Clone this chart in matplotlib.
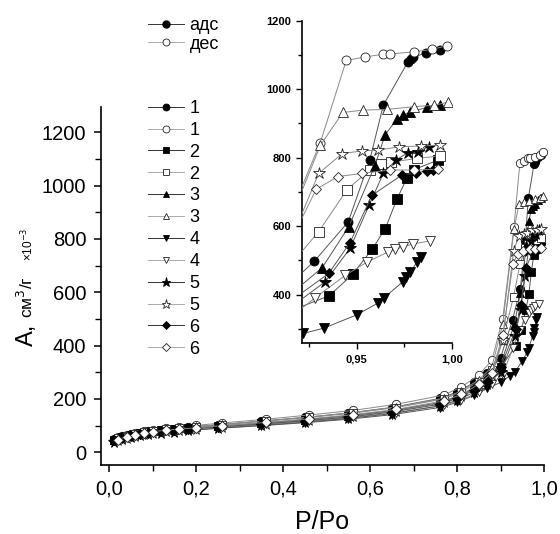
import matplotlib
matplotlib.use("Agg")
import matplotlib.pyplot as plt
from matplotlib.lines import Line2D
from matplotlib.ticker import MultipleLocator, FuncFormatter

plt.rcParams['font.family'] = ['Liberation Sans', 'DejaVu Sans']

# ---------------- data ----------------
p_ads = [0.01, 0.03, 0.05, 0.07, 0.09, 0.12, 0.15, 0.18, 0.25, 0.35, 0.45, 0.55, 0.65, 0.76, 0.80, 0.84, 0.87, 0.90]
p_des = [0.02, 0.04, 0.06, 0.08, 0.10, 0.13, 0.16, 0.20, 0.26, 0.36, 0.46, 0.56, 0.66, 0.77, 0.81, 0.85, 0.88, 0.905]

s1_ads_low = [50, 60, 68, 74, 79, 85, 89, 94, 103, 117, 131, 147, 168, 202, 226, 262, 298, 354]
s1_des_low = [56, 66, 74, 80, 85, 91, 96, 101, 110, 124, 140, 157, 180, 215, 245, 290, 345, 500]
s2_ads_low = [48, 58, 66, 72, 77, 82, 86, 90, 98, 110, 122, 137, 156, 186, 208, 240, 272, 320]
s2_des_low = [52, 62, 70, 76, 81, 87, 91, 96, 104, 117, 131, 147, 168, 200, 226, 265, 310, 420]
s3_ads_low = [47, 57, 65, 71, 76, 81, 85, 89, 97, 109, 121, 136, 155, 185, 207, 240, 275, 330]
s3_des_low = [52, 62, 70, 76, 81, 87, 92, 97, 105, 118, 132, 149, 170, 203, 230, 272, 320, 480]
s4_ads_low = [42, 52, 60, 66, 70, 75, 79, 83, 90, 100, 111, 124, 141, 168, 187, 214, 240, 262]
s4_des_low = [46, 56, 63, 69, 73, 79, 83, 87, 94, 105, 117, 131, 149, 176, 196, 226, 256, 290]
s5_ads_low = [40, 50, 58, 64, 69, 74, 78, 82, 90, 101, 113, 127, 145, 174, 195, 226, 258, 300]
s5_des_low = [45, 55, 63, 69, 74, 80, 84, 88, 96, 108, 121, 136, 156, 187, 210, 248, 290, 420]
s6_ads_low = [45, 55, 63, 69, 74, 79, 83, 87, 95, 106, 118, 132, 151, 180, 202, 234, 266, 320]
s6_des_low = [48, 58, 66, 72, 77, 83, 87, 92, 100, 112, 126, 141, 161, 193, 217, 255, 298, 440]

s1_ads_hp = [0.9278, 0.9456, 0.9569, 0.964, 0.977, 0.9784, 0.9798, 0.9863, 0.9941]
s1_ads_hv = [498, 613, 793, 953, 1080, 1087, 1093, 1106, 1115]
s1_des_hp = [0.9309, 0.9445, 0.9543, 0.9637, 0.9677, 0.980, 0.9897, 0.9973]
s1_des_hv = [844, 1084, 1094, 1102, 1103, 1109, 1116, 1127]
s2_ads_hp = [0.9356, 0.948, 0.9583, 0.9651, 0.9711, 0.9764, 0.980, 0.9929]
s2_ads_hv = [397, 460, 534, 593, 678, 740, 765, 793]
s2_des_hp = [0.930, 0.945, 0.957, 0.963, 0.968, 0.982, 0.994]
s2_des_hv = [584, 707, 765, 783, 787, 798, 805]
s3_ads_hp = [0.9319, 0.9459, 0.9596, 0.965, 0.9711, 0.9746, 0.9782, 0.987, 0.9941]
s3_ads_hv = [479, 599, 777, 867, 912, 925, 933, 947, 953]
s3_des_hp = [0.9309, 0.9427, 0.9535, 0.966, 0.980, 0.9906, 0.9982]
s3_des_hv = [836, 932, 939, 941, 949, 953, 962]
s4_ads_hp = [0.922, 0.9326, 0.950, 0.961, 0.9645, 0.9743, 0.976, 0.978, 0.9819, 0.9837]
s4_ads_hv = [287, 302, 341, 375, 391, 438, 452, 465, 496, 509]
s4_des_hp = [0.9282, 0.9441, 0.9557, 0.9663, 0.9704, 0.9746, 0.9796, 0.9885]
s4_des_hv = [391, 457, 496, 524, 532, 540, 548, 557]
s5_ads_hp = [0.9335, 0.9465, 0.9566, 0.964, 0.9707, 0.977, 0.9823, 0.9879]
s5_ads_hv = [438, 535, 662, 754, 793, 815, 818, 832]
s5_des_hp = [0.930, 0.9424, 0.953, 0.9613, 0.9725, 0.984, 0.9941]
s5_des_hv = [754, 812, 820, 822, 832, 834, 837]
s6_ads_hp = [0.9353, 0.9465, 0.958, 0.974, 0.981, 0.987, 0.990]
s6_ads_hv = [462, 552, 690, 750, 755, 762, 765]
s6_des_hp = [0.9287, 0.9402, 0.9527, 0.9676, 0.980, 0.9929]
s6_des_hv = [708, 745, 754, 764, 764, 766]

labels = ['1', '1', '2', '2', '3', '3', '4', '4', '5', '5', '6', '6']
markers = ['o', 'o', 's', 's', '^', '^', 'v', 'v', '*', '*', 'D', 'D']

series = [
    (p_ads + s1_ads_hp, s1_ads_low + s1_ads_hv),
    (p_des + s1_des_hp, s1_des_low + s1_des_hv),
    (p_ads + s2_ads_hp, s2_ads_low + s2_ads_hv),
    (p_des + s2_des_hp, s2_des_low + s2_des_hv),
    (p_ads + s3_ads_hp, s3_ads_low + s3_ads_hv),
    (p_des + s3_des_hp, s3_des_low + s3_des_hv),
    (p_ads + s4_ads_hp, s4_ads_low + s4_ads_hv),
    (p_des + s4_des_hp, s4_des_low + s4_des_hv),
    (p_ads + s5_ads_hp, s5_ads_low + s5_ads_hv),
    (p_des + s5_des_hp, s5_des_low + s5_des_hv),
    (p_ads + s6_ads_hp, s6_ads_low + s6_ads_hv),
    (p_des + s6_des_hp, s6_des_low + s6_des_hv),
]

W, H = 560, 534
fig = plt.figure(figsize=(W / 100, H / 100), dpi=100)

def fx(px):
    return px / W

def fy(py):
    return 1 - py / H

ax = fig.add_axes([fx(101), fy(465), fx(544) - fx(101), fy(106.7) - fy(465)])
ax.set_xlim(-0.019, 1.0)
ax.set_ylim(-47.6, 1296)

ins = fig.add_axes([fx(302.3), fy(343.3), fx(451.7) - fx(302.3), fy(20.7) - fy(343.3)])
ins.set_xlim(0.9214, 1.0)
ins.set_ylim(258, 1200)
ins.patch.set_alpha(0)


def style(i):
    filled = (i % 2 == 0)
    m = markers[i]
    d = dict(marker=m, linestyle='-',
             color='#555555' if filled else '#8a8a8a', linewidth=0.7,
             markerfacecolor='black' if filled else 'white',
             markeredgecolor='black' if filled else '#222222',
             markeredgewidth=0.6)
    return d, m

handles = []
for i, (xs, ys) in enumerate(series):
    d, m = style(i)
    msz = 8.5 if m == '*' else (5.0 if m == 'D' else 6.0)
    ax.plot(xs, ys, markersize=msz, clip_on=False, zorder=3, **d)
    ins.plot(xs, ys, markersize=msz + 0.5, zorder=3, **d)
    hsz = 6.5 if m == '*' else (4.0 if m == 'D' else 5.0)
    h = Line2D([], [], markersize=hsz, **d)
    h.set_color('#333333' if i % 2 == 0 else '#aaaaaa')
    handles.append(h)

# main axes styling
for sp in ['top', 'right']:
    ax.spines[sp].set_visible(False)
for sp in ['left', 'bottom']:
    ax.spines[sp].set_linewidth(1.2)
ax.xaxis.set_major_locator(MultipleLocator(0.2))
ax.xaxis.set_minor_locator(MultipleLocator(0.1))
ax.yaxis.set_major_locator(MultipleLocator(200))
ax.yaxis.set_minor_locator(MultipleLocator(100))
ax.xaxis.set_major_formatter(FuncFormatter(lambda v, p: f"{v:.1f}".replace('.', ',')))
ax.tick_params(which='major', direction='out', length=5, width=1.1, labelsize=14.5)
ax.tick_params(axis='x', which='major', pad=5.5)
ax.tick_params(axis='y', which='major', pad=5.5)
ax.tick_params(which='minor', direction='out', length=4, width=1.0)

# inset styling
for sp in ['top', 'right']:
    ins.spines[sp].set_visible(False)
for sp in ['left', 'bottom']:
    ins.spines[sp].set_linewidth(1.2)
ins.xaxis.set_major_locator(MultipleLocator(0.05))
ins.xaxis.set_minor_locator(MultipleLocator(0.025))
ins.yaxis.set_major_locator(MultipleLocator(200))
ins.yaxis.set_minor_locator(MultipleLocator(100))
ins.xaxis.set_major_formatter(FuncFormatter(lambda v, p: f"{v:.2f}".replace('.', ',')))
ins.tick_params(which='major', direction='out', length=4, width=1.0, labelsize=8, pad=4)
ins.tick_params(which='minor', direction='out', length=3, width=1.0)
for lab in ins.get_xticklabels() + ins.get_yticklabels():
    lab.set_fontweight('bold')

# axis labels
fig.text(fx(322), fy(522), 'P/Po', fontsize=18, ha='center', va='center')
fig.text(fx(33), fy(346), 'A,', fontsize=17, rotation=90, rotation_mode='anchor',
         ha='left', va='baseline')
fig.text(fx(33), fy(318), 'см$^3$/г', fontsize=12.5, rotation=90, rotation_mode='anchor',
         ha='left', va='baseline')
fig.text(fx(33), fy(261), '×10$^{-3}$', fontsize=8.5, rotation=90, rotation_mode='anchor',
         ha='left', va='baseline')

# legends
h_ads = Line2D([], [], marker='o', color='#333333', linewidth=0.7, markersize=5,
               markerfacecolor='black', markeredgecolor='black')
h_des = Line2D([], [], marker='o', color='#aaaaaa', linewidth=0.7, markersize=5,
               markerfacecolor='white', markeredgecolor='#222222', markeredgewidth=0.6)
leg1 = fig.legend([h_ads, h_des], ['адс', 'дес'], loc='upper left',
                  bbox_to_anchor=(fx(148), fy(17)), frameon=False, fontsize=13,
                  handlelength=2.0, handletextpad=0.3, labelspacing=0.1,
                  borderaxespad=0, borderpad=0)
leg2 = fig.legend(handles, labels, loc='upper left',
                  bbox_to_anchor=(fx(148), fy(100)), frameon=False, fontsize=13,
                  handlelength=2.0, handletextpad=0.3, labelspacing=0.27,
                  borderaxespad=0, borderpad=0)

fig.savefig('out.png', dpi=100)
